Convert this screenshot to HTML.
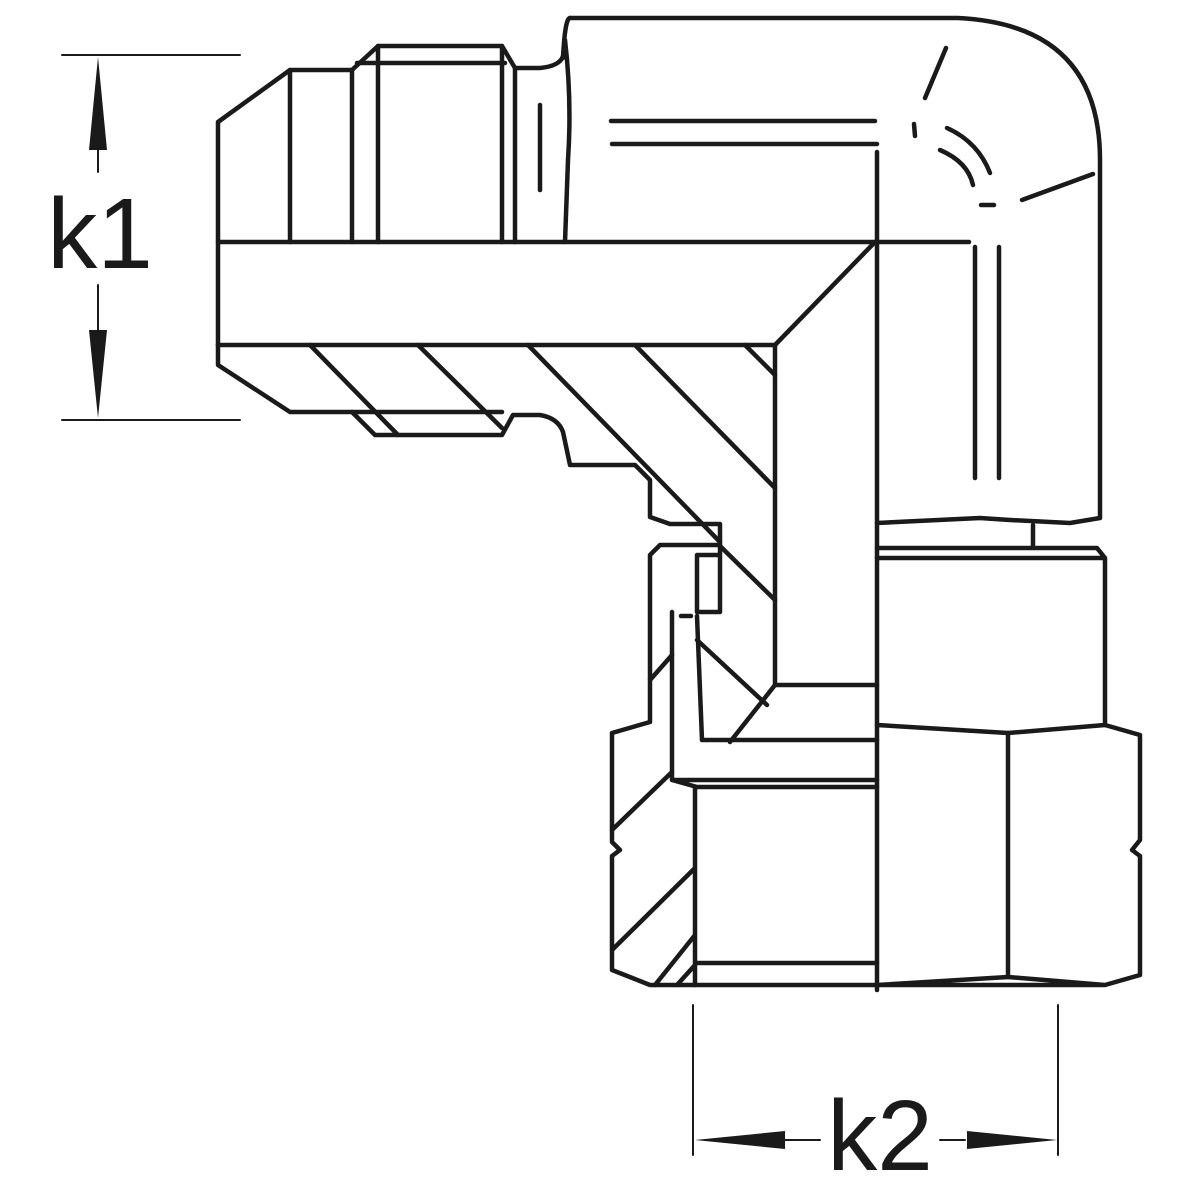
<!DOCTYPE html>
<html><head><style>html,body{margin:0;padding:0;background:#fff}svg{display:block}</style></head>
<body>
<svg width="1200" height="1200" viewBox="0 0 1200 1200" xmlns="http://www.w3.org/2000/svg">
<g fill="none" stroke="#1a1a1a" stroke-width="4.5" stroke-linejoin="round" stroke-linecap="round">
<path d="M570,18 L958,18 Q1100,25 1100,160 L1100,518 L1070,523 L1010,520 L980,518 L877,523"/>
<path d="M563,58 Q565,18 570,18"/>
<path d="M565,40 Q572,100 568,160 L565,242"/>
<path d="M218,345 L218,122 L290,70 L352,70 L378,46 L502,46 L515,68 L540,68 Q560,66 563,56"/>
<path d="M290,70 L290,242 M352,70 L352,242 M378,46 L378,242 M502,46 L502,242 M515,68 L515,242 M357,63 L505,63"/>
<path d="M540,105 L540,190"/>
<path d="M218,242 L969,242 M218,345 L775,345"/>
<path d="M875,242 L775,345"/>
<path d="M877,152 L877,990"/>
<path d="M775,345 L775,685"/>
<path d="M611,121 L875,121 M612,144 L877,144"/>
<path d="M975,247 L975,478 M999,247 L999,478"/>
<path d="M946,48 L925,98 M914,124 L915,136 M1093,174 L1022,200 M981,205 L994,205"/>
<path d="M940,150 Q968,162 973,185 M947,128 Q978,142 990,173"/>
<path d="M218,345 L218,365 L290,412 L352,412 L375,435 L502,435 L513,415 L540,415 Q558,418 563,432 L570,465 L635,465 L650,480 L650,517 L670,524 L720,524 L720,612 L697,612 L697,555 L720,555"/>
<path d="M352,412 L502,412"/>
<path d="M310,345 L398,435 M418,345 L502,428 M528,345 L720,542 M635,345 L775,488 M745,345 L775,375"/>
<path d="M720,546 L775,600"/>
<path d="M877,548 L1097,548 L1105,558 L877,558 M1033,525 L1033,548 M1105,558 L1105,725"/>
<path d="M877,725 L1008,733 L1105,725 L1140,735 L1140,840 L1132,850 L1140,856 L1140,975 L1105,985 L877,985 L1008,977 L1105,985"/>
<path d="M1008,733 L1008,977"/>
<path d="M720,545 L660,545 L650,555 L650,722 L612,733 L612,842 L620,850 L612,856 L612,970 L650,985 L877,985"/>
<path d="M672,612 L672,780 L697,787 L877,787 M672,780 L877,780 M681,616 L691,616"/>
<path d="M697,616 L702,740 L877,740 M697,640 L767,705 M775,685 L877,685 M775,685 L730,742"/>
<path d="M650,680 L672,655 M612,830 L672,772 M612,950 L695,868 M695,787 L695,985 M695,963 L877,963 M655,985 L695,935 M677,985 L695,965"/>
<path d="M62,55 L240,55 M62,420 L240,420 M98,145 L98,172 M98,285 L98,330 M693,1005 L693,1155 M1058,1005 L1058,1155 M785,1140 L820,1140 M940,1140 L965,1140" stroke-width="2"/>
</g>
<g fill="#1a1a1a">
<polygon points="98,57 89,150 107,150"/>
<polygon points="98,418 89,330 107,330"/>
<polygon points="695,1140 785,1131 785,1149"/>
<polygon points="1057,1140 967,1131 967,1149"/>
</g>
<text x="100" y="268" font-family="Liberation Sans, sans-serif" font-size="100" text-anchor="middle" fill="#1a1a1a">k1</text>
<text x="880" y="1170" font-family="Liberation Sans, sans-serif" font-size="100" text-anchor="middle" fill="#1a1a1a">k2</text>
</svg>
</body></html>
